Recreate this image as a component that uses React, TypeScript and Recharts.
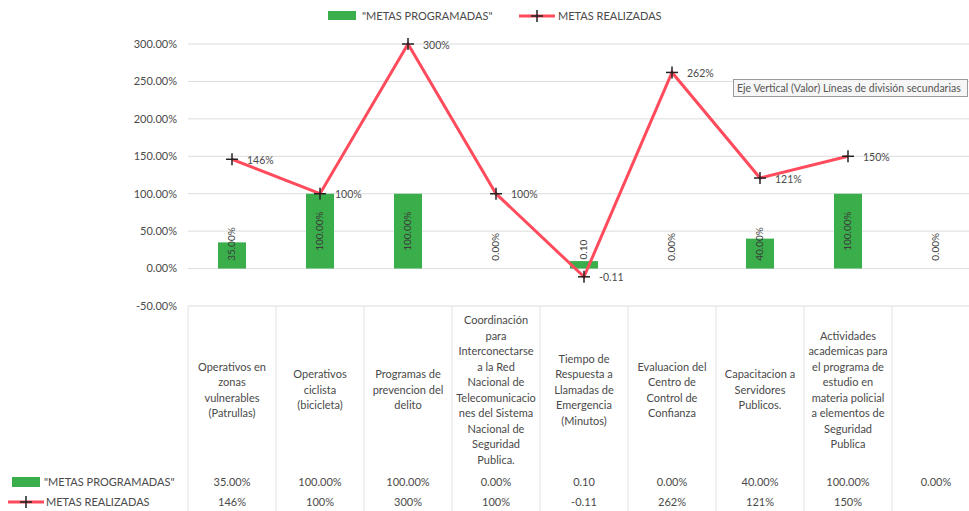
import React from 'react';
import { ComposedChart, Bar, Line, XAxis, YAxis, CartesianGrid, LabelList, Cell } from 'recharts';

const categoryLines: string[][] = [
  ['Operativos en', 'zonas', 'vulnerables', '(Patrullas)'],
  ['Operativos', 'ciclista', '(bicicleta)'],
  ['Programas de', 'prevencion del', 'delito'],
  ['Coordinación', 'para', 'Interconectarse', 'a la Red', 'Nacional de', 'Telecomunicacio', 'nes del Sistema', 'Nacional  de', 'Seguridad', 'Publica.'],
  ['Tiempo de', 'Respuesta a', 'Llamadas de', 'Emergencia', '(Minutos)'],
  ['Evaluacion del', 'Centro de', 'Control de', 'Confianza'],
  ['Capacitacion a', 'Servidores', 'Publicos.'],
  ['Actividades', 'academicas para', 'el programa de', 'estudio en', 'materia policial', 'a elementos de', 'Seguridad', 'Publica'],
  [],
];
const categories = categoryLines.map((l, i) => (l.length ? l.join(' ') : `cat${i}`));

const metasProgramadas = [0.35, 1, 1, 0, 0.1, 0, 0.4, 1, 0];
const metasRealizadas: (number | null)[] = [1.46, 1, 3, 1, -0.11, 2.62, 1.21, 1.5, null];

const programadasLabels = ['35.00%', '100.00%', '100.00%', '0.00%', '0.10', '0.00%', '40.00%', '100.00%', '0.00%'];
const realizadasLabels = ['146%', '100%', '300%', '100%', '-0.11', '262%', '121%', '150%', ''];

const yTicks = [-0.5, 0, 0.5, 1, 1.5, 2, 2.5, 3];

const seriesProgramadas = '"METAS PROGRAMADAS"';
const seriesRealizadas = 'METAS REALIZADAS';

const data = categories.map((c, i) => ({
  name: c,
  prog: metasProgramadas[i],
  real: metasRealizadas[i],
}));

const FONT = 'Lato, "Liberation Sans", sans-serif';
const TEXT = '#4a4a4a';
const GREEN = '#3aae4b';
const RED = '#ff4b5c';
const HALF_COL = 44;

const TableTick = (props: any) => {
  const { x, y, payload } = props;
  const i = payload.index;
  const lines = categoryLines[i] || [];
  const lh = 15.5;
  const cy = y + 84;
  const start = cy - ((lines.length - 1) * lh) / 2;
  return (
    <g>
      <line x1={x - HALF_COL} x2={x - HALF_COL} y1={y} y2={511} stroke="#e2e2e2" />
      {i === categoryLines.length - 1 && (
        <line x1={x + HALF_COL} x2={x + HALF_COL} y1={y} y2={511} stroke="#e2e2e2" />
      )}
      {lines.map((t, k) => (
        <text key={k} x={x} y={start + k * lh} dy="0.35em" textAnchor="middle" fontSize={11} fill={TEXT} fontFamily={FONT}>
          {t}
        </text>
      ))}
      <text x={x} y={y + 176} dy="0.35em" textAnchor="middle" fontSize={11} fill={TEXT} fontFamily={FONT}>
        {programadasLabels[i]}
      </text>
      <text x={x} y={y + 196} dy="0.35em" textAnchor="middle" fontSize={11} fill={TEXT} fontFamily={FONT}>
        {realizadasLabels[i]}
      </text>
    </g>
  );
};

const BarLabel = (props: any) => {
  const { x, y, width, height, index } = props;
  const label = programadasLabels[index];
  if (label == null) return null;
  const cx = x + width / 2;
  const bottom = y + height;
  const len = label.length * 5.5;
  const cy = Math.min(y + height / 2, bottom - len / 2 - 8);
  return (
    <text
      x={cx}
      y={cy}
      dy="0.35em"
      textAnchor="middle"
      fontSize={10}
      fill="#3a3a3a"
      fontFamily={FONT}
      transform={`rotate(-90 ${cx} ${cy})`}
    >
      {label}
    </text>
  );
};

const LineLabel = (props: any) => {
  const { x, y, index, value } = props;
  if (value == null) return null;
  return (
    <text x={x + 15} y={y + 1} dy="0.35em" textAnchor="start" fontSize={10.5} fill={TEXT} fontFamily={FONT}>
      {realizadasLabels[index]}
    </text>
  );
};

const PlusDot = (props: any) => {
  const { cx, cy, value } = props;
  if (value == null || cx == null || cy == null) return null;
  return (
    <g>
      <line x1={cx - 6} x2={cx + 6} y1={cy} y2={cy} stroke="#222" strokeWidth={1.5} />
      <line x1={cx} x2={cx} y1={cy - 6} y2={cy + 6} stroke="#222" strokeWidth={1.5} />
    </g>
  );
};

const PlusKey = ({ left, top }: { left: number; top: number }) => (
  <svg style={{ position: 'absolute', left, top }} width={36} height={12}>
    <line x1={0} x2={36} y1={6} y2={6} stroke={RED} strokeWidth={3} />
    <line x1={12} x2={24} y1={6} y2={6} stroke="#222" strokeWidth={1.5} />
    <line x1={18} x2={18} y1={0} y2={12} stroke="#222" strokeWidth={1.5} />
  </svg>
);

const textStyle: React.CSSProperties = {
  position: 'absolute',
  fontFamily: FONT,
  fontSize: 11,
  color: TEXT,
  lineHeight: '12px',
  whiteSpace: 'nowrap',
};

export default function App() {
  return (
    <div style={{ position: 'fixed', left: 0, top: 0, width: 969, height: 511, overflow: 'hidden', background: '#fff' }}>
      <ComposedChart
        width={990}
        height={511}
        data={data}
        margin={{ top: 44, right: 10, left: 0, bottom: 0 }}
      >
        <CartesianGrid vertical={false} stroke="#dcdcdc" />
        <YAxis
          type="number"
          domain={[-0.5, 3]}
          ticks={yTicks}
          width={188}
          axisLine={false}
          tickLine={false}
          tickSize={0}
          tickMargin={11}
          tick={{ fontSize: 11, fill: TEXT, fontFamily: FONT }}
          tickFormatter={(v: number) => `${(v * 100).toFixed(2)}%`}
          interval={0}
        />
        <XAxis
          dataKey="name"
          height={205}
          axisLine={false}
          tickLine={false}
          tickSize={0}
          tickMargin={0}
          interval={0}
          tick={<TableTick />}
        />
        <Bar dataKey="prog" name={seriesProgramadas} fill={GREEN} barSize={28} minPointSize={1} isAnimationActive={false}>
          {metasProgramadas.map((v, i) => (
            <Cell key={i} fill={v === 0 ? 'transparent' : GREEN} />
          ))}
          <LabelList dataKey="prog" content={<BarLabel />} />
        </Bar>
        <Line
          dataKey="real"
          name={seriesRealizadas}
          stroke={RED}
          strokeWidth={3}
          dot={<PlusDot />}
          activeDot={false}
          isAnimationActive={false}
        >
          <LabelList dataKey="real" content={<LineLabel />} />
        </Line>
      </ComposedChart>

      {/* top legend */}
      <div style={{ position: 'absolute', left: 328, top: 11, width: 28, height: 9, background: GREEN }} />
      <div style={{ ...textStyle, left: 362, top: 10 }}>{seriesProgramadas}</div>
      <PlusKey left={519} top={10} />
      <div style={{ ...textStyle, left: 558, top: 10 }}>{seriesRealizadas}</div>

      {/* data table row headers */}
      <div style={{ position: 'absolute', left: 12, top: 477, width: 28, height: 10, background: GREEN }} />
      <div style={{ ...textStyle, left: 44, top: 476 }}>{seriesProgramadas}</div>
      <PlusKey left={8} top={496} />
      <div style={{ ...textStyle, left: 46, top: 496 }}>{seriesRealizadas}</div>

      {/* hover box */}
      <div
        style={{
          position: 'absolute',
          left: 733,
          top: 79,
          width: 230,
          height: 16,
          border: '1px solid #9a9a9a',
          background: '#f6f6f6',
          fontFamily: FONT,
          fontSize: 10.5,
          color: '#555',
          lineHeight: '16px',
          paddingLeft: 3,
          whiteSpace: 'nowrap',
          overflow: 'hidden',
        }}
      >
        Eje Vertical (Valor) Líneas de división secundarias
      </div>
    </div>
  );
}
